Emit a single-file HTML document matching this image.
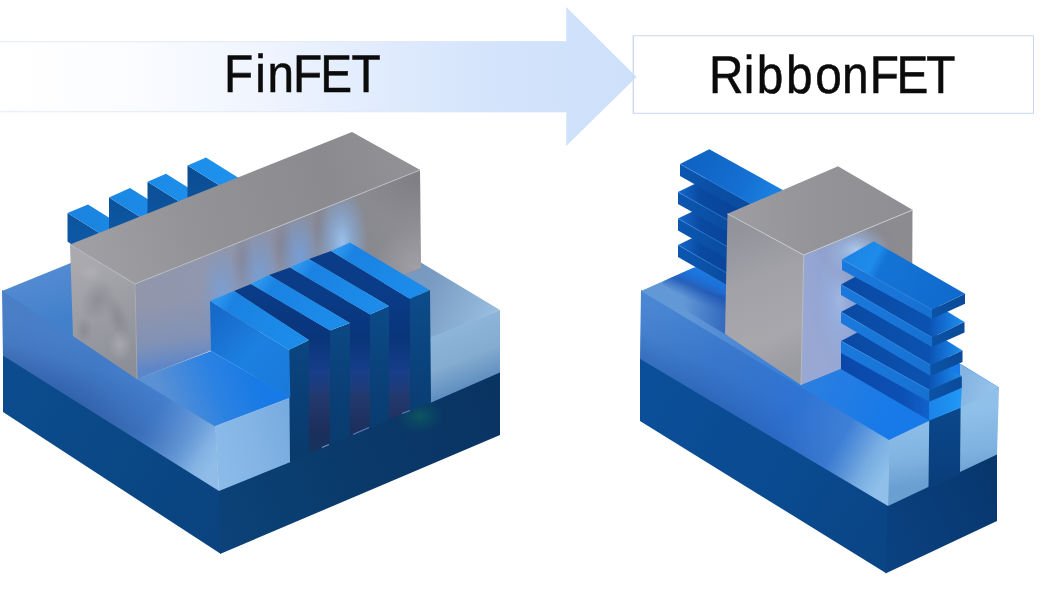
<!DOCTYPE html>
<html lang="en">
<head>
<meta charset="utf-8">
<title>FinFET to RibbonFET</title>
<style>
  html,body{margin:0;padding:0;background:#fff;}
  body{width:1057px;height:601px;overflow:hidden;position:relative;}
  svg{display:block;position:absolute;left:0;top:0;}
  text{font-family:"Liberation Sans",sans-serif;fill:#0b0b0b;stroke:#0b0b0b;stroke-width:0.55px;text-rendering:geometricPrecision;}
</style>
</head>
<body>
<svg width="1057" height="601" viewBox="0 0 1057 601">
<defs>
  <filter id="noop" x="-5%" y="-20%" width="110%" height="140%" color-interpolation-filters="sRGB"><feOffset dx="0" dy="0"/></filter>
  <linearGradient id="gArrow" gradientUnits="userSpaceOnUse" x1="0" y1="0" x2="640" y2="0">
    <stop offset="0" stop-color="#ffffff"/>
    <stop offset="0.2" stop-color="#fbfcff"/>
    <stop offset="0.42" stop-color="#eff4fe"/>
    <stop offset="0.6" stop-color="#e0ebfd"/>
    <stop offset="0.78" stop-color="#d3e3fb"/>
    <stop offset="1" stop-color="#cde0fa"/>
  </linearGradient>
  <linearGradient id="gArrowLine" gradientUnits="userSpaceOnUse" x1="0" y1="0" x2="566" y2="0">
    <stop offset="0" stop-color="#e6ecf4"/>
    <stop offset="0.6" stop-color="#e3eaf6"/>
    <stop offset="1" stop-color="#cfe0fa"/>
  </linearGradient>
  <!-- FinFET gradients -->
  <linearGradient id="fSubL" gradientUnits="userSpaceOnUse" x1="3" y1="380" x2="220" y2="520">
    <stop offset="0" stop-color="#0c4c8e"/><stop offset="0.6" stop-color="#0a4785"/><stop offset="1" stop-color="#0a4380"/>
  </linearGradient>
  <linearGradient id="fSubR" gradientUnits="userSpaceOnUse" x1="220" y1="520" x2="500" y2="400">
    <stop offset="0" stop-color="#0b4277"/><stop offset="0.5" stop-color="#0a396a"/><stop offset="1" stop-color="#093462"/>
  </linearGradient>
  <linearGradient id="fOxL" gradientUnits="userSpaceOnUse" x1="3" y1="320" x2="217" y2="458">
    <stop offset="0" stop-color="#4a7fc6"/><stop offset="0.4" stop-color="#447dca"/><stop offset="0.7" stop-color="#4682d2"/><stop offset="0.86" stop-color="#6a9edc"/><stop offset="0.96" stop-color="#88b6e4"/><stop offset="1" stop-color="#8fbde8"/>
  </linearGradient>
  <linearGradient id="fOxLv" gradientUnits="userSpaceOnUse" x1="112" y1="352" x2="92" y2="418">
    <stop offset="0" stop-color="#2a5598" stop-opacity="0"/><stop offset="0.3" stop-color="#2a5598" stop-opacity="0.12"/><stop offset="0.65" stop-color="#28529a" stop-opacity="0.55"/><stop offset="1" stop-color="#244c8a" stop-opacity="0.9"/>
  </linearGradient>
  <linearGradient id="fOxLmaskG" gradientUnits="userSpaceOnUse" x1="3" y1="340" x2="195" y2="461">
    <stop offset="0" stop-color="#fff"/><stop offset="0.35" stop-color="#ddd"/><stop offset="0.75" stop-color="#555"/><stop offset="1" stop-color="#000"/>
  </linearGradient>
  <mask id="fOxLmask" maskUnits="userSpaceOnUse" x="0" y="280" width="230" height="220">
    <rect x="0" y="280" width="230" height="220" fill="url(#fOxLmaskG)"/>
  </mask>
  <linearGradient id="fOxTopBack" gradientUnits="userSpaceOnUse" x1="30" y1="272" x2="45" y2="325">
    <stop offset="0" stop-color="#558cd2"/><stop offset="1" stop-color="#4280cc"/>
  </linearGradient>
  <linearGradient id="fOxTopFront" gradientUnits="userSpaceOnUse" x1="255" y1="372" x2="165" y2="404">
    <stop offset="0" stop-color="#177ae6"/><stop offset="0.45" stop-color="#2c82e2"/><stop offset="1" stop-color="#5a90d4"/>
  </linearGradient>
  <linearGradient id="fOxRL" gradientUnits="userSpaceOnUse" x1="215" y1="440" x2="290" y2="420">
    <stop offset="0" stop-color="#8abae8"/><stop offset="0.5" stop-color="#84b4e5"/><stop offset="1" stop-color="#78abe0"/>
  </linearGradient>
  <linearGradient id="fOxTopR" gradientUnits="userSpaceOnUse" x1="425" y1="285" x2="495" y2="318">
    <stop offset="0" stop-color="#7899c0"/><stop offset="1" stop-color="#98bee0"/>
  </linearGradient>
  <linearGradient id="fOxRR" gradientUnits="userSpaceOnUse" x1="455" y1="325" x2="478" y2="385">
    <stop offset="0" stop-color="#8db6da"/><stop offset="0.55" stop-color="#84abd0"/><stop offset="1" stop-color="#5d8dbe"/>
  </linearGradient>
  <linearGradient id="fFinFront" gradientUnits="userSpaceOnUse" x1="0" y1="295" x2="0" y2="460">
    <stop offset="0" stop-color="#0c4c8a"/><stop offset="0.5" stop-color="#0a4179"/><stop offset="1" stop-color="#093a6c"/>
  </linearGradient>
  <linearGradient id="fGap" gradientUnits="userSpaceOnUse" x1="0" y1="290" x2="0" y2="455">
    <stop offset="0" stop-color="#0a3c88"/><stop offset="0.3" stop-color="#09357a"/><stop offset="0.5" stop-color="#173f8a"/><stop offset="0.65" stop-color="#23396e"/><stop offset="0.85" stop-color="#1c2f5c"/><stop offset="1" stop-color="#16335e"/>
  </linearGradient>
  <linearGradient id="fFinTop" gradientUnits="userSpaceOnUse" x1="230" y1="280" x2="330" y2="340">
    <stop offset="0" stop-color="#2a96ee"/><stop offset="0.12" stop-color="#1a82e2"/><stop offset="0.6" stop-color="#1c8ae8"/><stop offset="1" stop-color="#1e8eea"/>
  </linearGradient>
  <linearGradient id="fFinTop1" gradientUnits="userSpaceOnUse" x1="271" y1="263" x2="371" y2="323">
    <stop offset="0" stop-color="#2a96ee"/><stop offset="0.12" stop-color="#1a82e2"/><stop offset="0.6" stop-color="#1c8ae8"/><stop offset="1" stop-color="#1e8eea"/>
  </linearGradient>
  <linearGradient id="fFinTop2" gradientUnits="userSpaceOnUse" x1="310" y1="246.5" x2="410" y2="306.5">
    <stop offset="0" stop-color="#2a96ee"/><stop offset="0.12" stop-color="#1a82e2"/><stop offset="0.6" stop-color="#1c8ae8"/><stop offset="1" stop-color="#1e8eea"/>
  </linearGradient>
  <linearGradient id="fFinTop3" gradientUnits="userSpaceOnUse" x1="351" y1="230" x2="451" y2="290">
    <stop offset="0" stop-color="#2a96ee"/><stop offset="0.12" stop-color="#1a82e2"/><stop offset="0.6" stop-color="#1c8ae8"/><stop offset="1" stop-color="#1e8eea"/>
  </linearGradient>
  <linearGradient id="fFinSide" gradientUnits="userSpaceOnUse" x1="215" y1="315" x2="290" y2="385">
    <stop offset="0" stop-color="#176aca"/><stop offset="0.5" stop-color="#1c80e0"/><stop offset="1" stop-color="#1a7adc"/>
  </linearGradient>
  <linearGradient id="fGateTop" gradientUnits="userSpaceOnUse" x1="80" y1="250" x2="410" y2="160">
    <stop offset="0" stop-color="#a09fa4"/><stop offset="0.35" stop-color="#939297"/><stop offset="0.75" stop-color="#8b8a8f"/><stop offset="1" stop-color="#929196"/>
  </linearGradient>
  <linearGradient id="fGateEnd" gradientUnits="userSpaceOnUse" x1="80" y1="260" x2="130" y2="365">
    <stop offset="0" stop-color="#a9a9ae"/><stop offset="0.5" stop-color="#9c9da3"/><stop offset="1" stop-color="#8d8f98"/>
  </linearGradient>
  <linearGradient id="fGateFront" gradientUnits="userSpaceOnUse" x1="140" y1="330" x2="420" y2="220">
    <stop offset="0" stop-color="#9196ab"/><stop offset="0.3" stop-color="#9097af"/><stop offset="0.6" stop-color="#8d90a0"/><stop offset="0.8" stop-color="#88888f"/><stop offset="1" stop-color="#8e8e93"/>
  </linearGradient>
  <linearGradient id="fGateBL" gradientUnits="userSpaceOnUse" x1="170" y1="300" x2="180" y2="365">
    <stop offset="0" stop-color="#5f88cc" stop-opacity="0"/><stop offset="0.6" stop-color="#5f88cc" stop-opacity="0.3"/><stop offset="1" stop-color="#4a80d4" stop-opacity="0.75"/>
  </linearGradient>
  <radialGradient id="fGlowA" cx="0.5" cy="0.5" r="0.5">
    <stop offset="0" stop-color="#6aa4ec" stop-opacity="0.95"/><stop offset="0.5" stop-color="#6aa0e8" stop-opacity="0.5"/><stop offset="1" stop-color="#6aa0e8" stop-opacity="0"/>
  </radialGradient>
  <radialGradient id="fGlowB" cx="0.5" cy="0.5" r="0.5">
    <stop offset="0" stop-color="#9cc6f6" stop-opacity="1"/><stop offset="0.5" stop-color="#86b4ee" stop-opacity="0.55"/><stop offset="1" stop-color="#86b4ee" stop-opacity="0"/>
  </radialGradient>
  <radialGradient id="fShade" cx="0.5" cy="0.5" r="0.5">
    <stop offset="0" stop-color="#6b6678" stop-opacity="0.55"/><stop offset="1" stop-color="#6b6678" stop-opacity="0"/>
  </radialGradient>
  <radialGradient id="fGreen" cx="0.5" cy="0.5" r="0.5">
    <stop offset="0" stop-color="#0f7a5a" stop-opacity="0.45"/><stop offset="1" stop-color="#0f6a5a" stop-opacity="0"/>
  </radialGradient>
  <linearGradient id="fBackTop" gradientUnits="userSpaceOnUse" x1="70" y1="210" x2="240" y2="175">
    <stop offset="0" stop-color="#1a84e0"/><stop offset="1" stop-color="#1e92ee"/>
  </linearGradient>
  <linearGradient id="fBackSide" gradientUnits="userSpaceOnUse" x1="0" y1="165" x2="0" y2="245">
    <stop offset="0" stop-color="#0b4c92"/><stop offset="1" stop-color="#0d59a6"/>
  </linearGradient>
  <clipPath id="fGateFrontClip"><polygon points="135,284 420,170 421,268 137,379"/></clipPath>
  <radialGradient id="fMarbD" cx="0.5" cy="0.5" r="0.5">
    <stop offset="0" stop-color="#7c7d86" stop-opacity="0.5"/><stop offset="1" stop-color="#7c7d86" stop-opacity="0"/>
  </radialGradient>
  <radialGradient id="fMarbL" cx="0.5" cy="0.5" r="0.5">
    <stop offset="0" stop-color="#b4b4b9" stop-opacity="0.6"/><stop offset="1" stop-color="#b4b4b9" stop-opacity="0"/>
  </radialGradient>
  <clipPath id="fGateEndClip"><polygon points="70,244.5 135.5,284 137.5,379.5 73,336"/></clipPath>
  <linearGradient id="fGateRv" gradientUnits="userSpaceOnUse" x1="395" y1="180" x2="400" y2="275">
    <stop offset="0" stop-color="#76767c" stop-opacity="0.55"/><stop offset="0.5" stop-color="#88888e" stop-opacity="0"/><stop offset="1" stop-color="#a4a4aa" stop-opacity="0.6"/>
  </linearGradient>
  <radialGradient id="fCornerD" cx="0.5" cy="0.5" r="0.5">
    <stop offset="0" stop-color="#74747a" stop-opacity="0.6"/><stop offset="1" stop-color="#74747a" stop-opacity="0"/>
  </radialGradient>
  <radialGradient id="fCornerL" cx="0.5" cy="0.5" r="0.5">
    <stop offset="0" stop-color="#a8a8ae" stop-opacity="0.7"/><stop offset="1" stop-color="#a8a8ae" stop-opacity="0"/>
  </radialGradient>
  <!-- RibbonFET gradients -->
  <linearGradient id="rSubL" gradientUnits="userSpaceOnUse" x1="640" y1="390" x2="887" y2="540">
    <stop offset="0" stop-color="#0b4f9a"/><stop offset="0.6" stop-color="#0a4a8f"/><stop offset="1" stop-color="#0a4585"/>
  </linearGradient>
  <linearGradient id="rSubR" gradientUnits="userSpaceOnUse" x1="887" y1="540" x2="997" y2="488">
    <stop offset="0" stop-color="#0a4180"/><stop offset="1" stop-color="#08376e"/>
  </linearGradient>
  <linearGradient id="rOxL" gradientUnits="userSpaceOnUse" x1="640" y1="325" x2="888" y2="473">
    <stop offset="0" stop-color="#4a86d2"/><stop offset="0.3" stop-color="#3a78cc"/><stop offset="0.6" stop-color="#2f74d4"/><stop offset="0.8" stop-color="#3f80d8"/><stop offset="0.92" stop-color="#78aee2"/><stop offset="1" stop-color="#90c0ea"/>
  </linearGradient>
  <linearGradient id="rOxLv" gradientUnits="userSpaceOnUse" x1="775" y1="372" x2="745" y2="432">
    <stop offset="0" stop-color="#2458a8" stop-opacity="0"/><stop offset="0.35" stop-color="#2458a8" stop-opacity="0.1"/><stop offset="0.7" stop-color="#2458a8" stop-opacity="0.45"/><stop offset="1" stop-color="#1f50a0" stop-opacity="0.8"/>
  </linearGradient>
  <linearGradient id="rOxLmaskG" gradientUnits="userSpaceOnUse" x1="640" y1="340" x2="870" y2="478">
    <stop offset="0" stop-color="#fff"/><stop offset="0.4" stop-color="#ccc"/><stop offset="0.8" stop-color="#444"/><stop offset="1" stop-color="#000"/>
  </linearGradient>
  <mask id="rOxLmask" maskUnits="userSpaceOnUse" x="630" y="280" width="270" height="240">
    <rect x="630" y="280" width="270" height="240" fill="url(#rOxLmaskG)"/>
  </mask>
  <linearGradient id="rOxR" gradientUnits="userSpaceOnUse" x1="940" y1="415" x2="950" y2="480">
    <stop offset="0" stop-color="#8fc0ea"/><stop offset="0.6" stop-color="#80b2e0"/><stop offset="1" stop-color="#6a9fd2"/>
  </linearGradient>
  <linearGradient id="rOxTop" gradientUnits="userSpaceOnUse" x1="890" y1="400" x2="690" y2="305">
    <stop offset="0" stop-color="#187ae8"/><stop offset="0.35" stop-color="#2a7ee0"/><stop offset="0.7" stop-color="#4a86d4"/><stop offset="1" stop-color="#6398d6"/>
  </linearGradient>
  <linearGradient id="rOxTopR" gradientUnits="userSpaceOnUse" x1="962" y1="380" x2="998" y2="390">
    <stop offset="0" stop-color="#86b4e2"/><stop offset="1" stop-color="#96c4ec"/>
  </linearGradient>
  <linearGradient id="rCol" gradientUnits="userSpaceOnUse" x1="0" y1="405" x2="0" y2="490">
    <stop offset="0" stop-color="#0b488c"/><stop offset="1" stop-color="#093d7a"/>
  </linearGradient>
  <linearGradient id="rTop" gradientUnits="userSpaceOnUse" x1="850" y1="250" x2="955" y2="305">
    <stop offset="0" stop-color="#1a84e4"/><stop offset="0.22" stop-color="#1e8cea"/><stop offset="0.3" stop-color="#1474d6"/><stop offset="1" stop-color="#0f6acc"/>
  </linearGradient>
  <linearGradient id="rTopSh" gradientUnits="userSpaceOnUse" x1="850" y1="0" x2="962" y2="0">
    <stop offset="0" stop-color="#0a4aa4"/><stop offset="0.7" stop-color="#0b52b0"/><stop offset="0.85" stop-color="#1470d4"/><stop offset="1" stop-color="#1e8eec"/>
  </linearGradient>
  <linearGradient id="rSide" gradientUnits="userSpaceOnUse" x1="842" y1="0" x2="932" y2="0">
    <stop offset="0" stop-color="#1a78dc"/><stop offset="0.5" stop-color="#1976d8"/><stop offset="1" stop-color="#1670d0"/>
  </linearGradient>
  <linearGradient id="rEnd" gradientUnits="userSpaceOnUse" x1="930" y1="0" x2="965" y2="0">
    <stop offset="0" stop-color="#0c53a6"/><stop offset="1" stop-color="#0a4a98"/>
  </linearGradient>
  <linearGradient id="rStubTop" gradientUnits="userSpaceOnUse" x1="850" y1="0" x2="960" y2="0">
    <stop offset="0" stop-color="#0c56b8"/><stop offset="0.7" stop-color="#1270d8"/><stop offset="0.9" stop-color="#1e90f0"/><stop offset="1" stop-color="#2298f4"/>
  </linearGradient>
  <linearGradient id="rGateTop" gradientUnits="userSpaceOnUse" x1="735" y1="215" x2="905" y2="212">
    <stop offset="0" stop-color="#9d9ca1"/><stop offset="0.5" stop-color="#949398"/><stop offset="1" stop-color="#8f8e93"/>
  </linearGradient>
  <linearGradient id="rGateL" gradientUnits="userSpaceOnUse" x1="735" y1="230" x2="790" y2="370">
    <stop offset="0" stop-color="#92939b"/><stop offset="0.35" stop-color="#a1a1a7"/><stop offset="0.75" stop-color="#a7a7ac"/><stop offset="1" stop-color="#9a9aa1"/>
  </linearGradient>
  <linearGradient id="rGateR" gradientUnits="userSpaceOnUse" x1="805" y1="320" x2="912" y2="275">
    <stop offset="0" stop-color="#98a8d2"/><stop offset="0.3" stop-color="#92a4d4"/><stop offset="0.62" stop-color="#8c92ae"/><stop offset="0.8" stop-color="#88888f"/><stop offset="1" stop-color="#8b8b90"/>
  </linearGradient>
  <radialGradient id="rGlow" cx="0.5" cy="0.5" r="0.5">
    <stop offset="0" stop-color="#b4d2f8" stop-opacity="0.95"/><stop offset="0.5" stop-color="#9cc0f2" stop-opacity="0.5"/><stop offset="1" stop-color="#9cc0f2" stop-opacity="0"/>
  </radialGradient>
  <linearGradient id="rBackTop" gradientUnits="userSpaceOnUse" x1="690" y1="155" x2="780" y2="200">
    <stop offset="0" stop-color="#0f62c2"/><stop offset="0.6" stop-color="#1470d2"/><stop offset="1" stop-color="#1c84e2"/>
  </linearGradient>
  <linearGradient id="rBackTopSh" gradientUnits="userSpaceOnUse" x1="680" y1="0" x2="730" y2="0">
    <stop offset="0" stop-color="#1466c8"/><stop offset="0.4" stop-color="#0a4aa2"/><stop offset="1" stop-color="#09449a"/>
  </linearGradient>
  <linearGradient id="rBackSide" gradientUnits="userSpaceOnUse" x1="680" y1="0" x2="730" y2="0">
    <stop offset="0" stop-color="#0c56b0"/><stop offset="1" stop-color="#0a4ca0"/>
  </linearGradient>
  <linearGradient id="rShadow" gradientUnits="userSpaceOnUse" x1="712" y1="276" x2="700" y2="304">
    <stop offset="0" stop-color="#1a7ae2" stop-opacity="1"/><stop offset="0.3" stop-color="#1a6cd4" stop-opacity="0.95"/><stop offset="0.55" stop-color="#1c56b4" stop-opacity="0.85"/><stop offset="1" stop-color="#2a62bc" stop-opacity="0"/>
  </linearGradient>
  <clipPath id="rGateRClip"><polygon points="803.75,255 912.5,210 912,340 801,385"/></clipPath>
  <clipPath id="rOxTopClip"><polygon points="641,291 693,268 760,250 964,366 999,387.5 889,440"/></clipPath>
  <linearGradient id="rStubSide" gradientUnits="userSpaceOnUse" x1="841" y1="0" x2="930" y2="0">
    <stop offset="0" stop-color="#0a48a8"/><stop offset="0.7" stop-color="#0c50b4"/><stop offset="1" stop-color="#1262cc"/>
  </linearGradient>
  <linearGradient id="rStubFront" gradientUnits="userSpaceOnUse" x1="930" y1="0" x2="961" y2="0">
    <stop offset="0" stop-color="#1a84ea"/><stop offset="1" stop-color="#2298f4"/>
  </linearGradient>
  <linearGradient id="rShadow2" gradientUnits="userSpaceOnUse" x1="682" y1="0" x2="728" y2="0">
    <stop offset="0" stop-color="#1f54b0" stop-opacity="0"/><stop offset="1" stop-color="#1f54b0" stop-opacity="0.65"/>
  </linearGradient>

</defs>
<rect width="1057" height="601" fill="#ffffff"/>

<!-- ===== header ===== -->
<g id="header" opacity="0.999">
  <rect x="633.25" y="35.75" width="400.25" height="77.5" fill="#ffffff" stroke="#c9d6ef" stroke-width="1"/>
  <polygon points="0,41.75 566.25,41.75 566.25,7 636.5,77 566.25,146 566.25,111.75 0,111.75" fill="url(#gArrow)"/>
  <rect x="0" y="41.2" width="566" height="1.1" fill="url(#gArrowLine)"/>
  <rect x="0" y="111.2" width="566" height="1.1" fill="url(#gArrowLine)"/>
  <line x1="633.25" y1="36" x2="633.25" y2="113" stroke="#c9d6ef" stroke-width="1" opacity="0.7"/>
  <text id="t1" filter="url(#noop)" transform="scale(0.9,1)" x="249.03 283.51 297.17 325.59 355.73 390.44" y="91.8" font-size="53">FinFET</text>
  <text id="t2" filter="url(#noop)" transform="scale(0.9,1)" x="787.81 826.29 840.78 873.22 905.98 935.67 966.37 996.07 1029.16" y="93.4" font-size="53">RibbonFET</text>
</g>

<!-- ===== FinFET ===== -->
<g id="finfet">
  <!-- substrate -->
  <polygon points="3,354 219.6,490 220.6,553.8 3,412" fill="url(#fSubL)"/>
  <polygon points="218.5,490 290,460 288.5,350 430,289 431,402 500,371.5 500,435 220,554" fill="url(#fSubR)"/>
  <ellipse cx="420" cy="416" rx="24" ry="18" fill="url(#fGreen)"/>
  <!-- oxide left face -->
  <polygon points="2,290 215.5,425 219,491 3,355.5" fill="url(#fOxL)"/>
  <polygon points="2,290 215.5,425 219,491 3,355.5" fill="url(#fOxLv)" mask="url(#fOxLmask)"/>
  <!-- oxide top (back-left bit) -->
  <polygon points="2,291 72,262.5 76,338" fill="url(#fOxTopBack)"/>
  <!-- oxide top right bit + right face right bit -->
  <polygon points="400,250 500,310 430,338.5 425,300 340,245" fill="url(#fOxTopR)"/>
  <polygon points="429,338 500,310 500,372.5 430,403" fill="url(#fOxRR)"/>
  <!-- back fins -->
  <g>
    <polygon points="67.5,213 147.5,263 147.5,300 71,262 71,244 67.5,241.5" fill="url(#fBackSide)"/>
    <polygon points="67.5,213 88,204.5 168,254.5 147.5,263" fill="url(#fBackTop)"/>
    <polygon points="109,197.5 189,247.5 189,285 109,246" fill="url(#fBackSide)"/>
    <polygon points="109,197.5 130,188 210,238 189,247.5" fill="url(#fBackTop)"/>
    <polygon points="147.5,181.75 227.5,231.75 227.5,270 147.5,230" fill="url(#fBackSide)"/>
    <polygon points="147.5,181.75 166,173.75 246,223.75 227.5,231.75" fill="url(#fBackTop)"/>
    <polygon points="187.5,165.5 267.5,215.5 267.5,255 187.5,214" fill="url(#fBackSide)"/>
    <polygon points="187.5,165.5 206,157.5 286,207.5 267.5,215.5" fill="url(#fBackTop)"/>
  </g>
  <!-- gate -->
  <polygon points="135,284 420,170 421,268.5 137,379.5" fill="url(#fGateFront)"/>
  <g clip-path="url(#fGateFrontClip)">
    <polygon points="135,284 260,234 262,332 137,379.5" fill="url(#fGateBL)"/>
    <ellipse cx="415" cy="180" rx="55" ry="45" fill="url(#fCornerD)"/>
    <ellipse cx="418" cy="268" rx="45" ry="42" fill="url(#fCornerL)"/>
    <ellipse cx="243" cy="262" rx="12" ry="34" fill="url(#fShade)" opacity="0.55"/>
    <ellipse cx="282" cy="246" rx="12" ry="34" fill="url(#fShade)" opacity="0.55"/>
    <ellipse cx="321" cy="230" rx="11" ry="30" fill="url(#fShade)" opacity="0.5"/>
    <ellipse cx="222" cy="292" rx="22" ry="44" fill="url(#fGlowA)" opacity="0.6"/>
    <ellipse cx="260" cy="276" rx="21" ry="46" fill="url(#fGlowA)" opacity="0.65"/>
    <ellipse cx="300" cy="259" rx="21" ry="48" fill="url(#fGlowA)" opacity="0.75"/>
    <ellipse cx="342" cy="242" rx="26" ry="56" fill="url(#fGlowB)" opacity="0.9"/>
  </g>
  <polygon points="70,244.5 135.5,284 137.5,379.5 73,336" fill="url(#fGateEnd)"/>
  <g clip-path="url(#fGateEndClip)">
    <ellipse cx="98" cy="300" rx="16" ry="22" fill="url(#fMarbD)" transform="rotate(28 98 300)"/>
    <ellipse cx="118" cy="318" rx="10" ry="26" fill="url(#fMarbD)" transform="rotate(-20 118 318)"/>
    <ellipse cx="90" cy="272" rx="14" ry="10" fill="url(#fMarbL)"/>
    <ellipse cx="120" cy="345" rx="12" ry="16" fill="url(#fMarbL)"/>
    <ellipse cx="84" cy="330" rx="9" ry="14" fill="url(#fMarbD)"/>
  </g>
  <polygon points="70,244.5 352,132 420.3,170 135,284.3" fill="url(#fGateTop)"/>
  <polyline points="70,244.5 135,284 420,170" fill="none" stroke="#c9c9ce" stroke-width="1" opacity="0.75"/>
  <line x1="135" y1="284" x2="137" y2="379" stroke="#b5b7c0" stroke-width="1" opacity="0.5"/>
  <!-- oxide top (front bit) + right face left bit -->
  <polygon points="137,379 211,351 291,397.5 215,426.5" fill="url(#fOxTopFront)"/>
  <polygon points="215,426 290.5,397.5 290.5,462 219,491" fill="url(#fOxRL)"/>
  <!-- gaps between fins -->
  <polygon points="234,291 251,284 330.5,330.5 330.5,445 308.5,453.5 308.5,340" fill="url(#fGap)"/>
  <polygon points="269,275 290,267.5 370.5,314.5 370.5,428 349.5,436.5 349.5,323" fill="url(#fGap)"/>
  <polygon points="309,259 331,251 410.5,299 410.5,411 388.5,420 388.5,306" fill="url(#fGap)"/>
  <line x1="322" y1="447.5" x2="329" y2="444.5" stroke="#7fb0e6" stroke-width="1.2" opacity="0.8"/>
  <line x1="353" y1="434.5" x2="369" y2="427.5" stroke="#6fa0e0" stroke-width="1.2" opacity="0.7"/>
  <line x1="402" y1="413.5" x2="410" y2="410.5" stroke="#6fa0e0" stroke-width="1.2" opacity="0.7"/>
  <!-- fin front faces -->
  <polygon points="289,350 309,340 309,453.5 290,462" fill="url(#fFinFront)"/>
  <polygon points="330,330.5 350,323 350,436.5 330,445" fill="url(#fFinFront)"/>
  <polygon points="370,314.5 389,306 389,420 370,428" fill="url(#fFinFront)"/>
  <polygon points="410,299 430,290 431,402.5 410,411" fill="url(#fFinFront)"/>
  <!-- fin 1 side face -->
  <polygon points="210,301 289.3,350 290.3,397.8 211,351" fill="url(#fFinSide)"/>
  <!-- fin tops -->
  <polygon points="210,301 234,291 309,340 289,350" fill="url(#fFinTop)"/>
  <polygon points="251,284 269,275 350,323 330,330.5" fill="url(#fFinTop1)"/>
  <polygon points="290,267.5 309,259 389,306 370,314.5" fill="url(#fFinTop2)"/>
  <polygon points="331,251 350,242.5 429.5,290 410,299" fill="url(#fFinTop3)"/>

</g>

<!-- ===== RibbonFET ===== -->
<g id="ribbonfet">
  <!-- substrate -->
  <polygon points="640,357.5 888.6,505 886.2,573.2 640,421" fill="url(#rSubL)"/>
  <polygon points="887.5,505 997,453.5 997,521 885.5,573.5" fill="url(#rSubR)"/>
  <!-- oxide faces -->
  <polygon points="641,290 889.5,439 888,506 640,358.75" fill="url(#rOxL)"/>
  <polygon points="641,290 889.5,439 888,506 640,358.75" fill="url(#rOxLv)" mask="url(#rOxLmask)"/>
  <polygon points="889,439.5 999,387 997,454.5 888,506" fill="url(#rOxR)"/>
  <!-- oxide top -->
  <polygon points="641,291 693,268 760,250 964,366 999,387.5 889,440" fill="url(#rOxTop)"/>
  <polygon points="682,285 728,296 728,336 682,308" fill="url(#rShadow2)" clip-path="url(#rOxTopClip)"/>
  <polygon points="678,257 730,287 730,322 662,284" fill="url(#rShadow)" clip-path="url(#rOxTopClip)"/>
  <polygon points="960,408 999,387.5 960,364" fill="url(#rOxTopR)"/>
  <!-- back ribbons (bottom to top) -->
  <g>
    <polygon points="678,245 709,230 790,276 758,292" fill="url(#rBackTopSh)"/>
    <polygon points="678,245 758,291 758,303 678,257" fill="url(#rBackSide)"/>
    <polygon points="678,218.6 709,203.6 790,250 758,265" fill="url(#rBackTopSh)"/>
    <polygon points="678,218.6 758,264 758,276 678,230.6" fill="url(#rBackSide)"/>
    <polygon points="678,192 709,177 790,223 758,238" fill="url(#rBackTopSh)"/>
    <polygon points="678,192 758,237 758,249 678,204" fill="url(#rBackSide)"/>
    <polygon points="680,164 760,209 760,221 680,176" fill="url(#rBackSide)"/>
    <polygon points="680,164 709.3,149.3 790,194 760,209" fill="url(#rBackTop)"/>
  </g>
  <g stroke="#4aa2f2" stroke-width="0.9" opacity="0.5" fill="none">
    <line x1="680" y1="164" x2="760" y2="209"/><line x1="678" y1="192" x2="758" y2="237"/>
    <line x1="678" y1="218.6" x2="758" y2="264"/><line x1="678" y1="245" x2="758" y2="291"/>
  </g>
  <!-- gate -->
  <polygon points="803.5,255 912.5,210 912,340 801,385" fill="url(#rGateR)"/>
  <g clip-path="url(#rGateRClip)">
    <ellipse cx="856" cy="250" rx="34" ry="26" fill="url(#rGlow)" opacity="0.9"/>
    <ellipse cx="840" cy="300" rx="22" ry="60" fill="url(#rGlow)" opacity="0.45"/>
  </g>
  <polygon points="727.5,213.75 804,255 801.3,385.3 725,334" fill="url(#rGateL)"/>
  <polygon points="727.5,213.75 838,166.25 912.8,210 803.75,255.3" fill="url(#rGateTop)"/>
  <polyline points="727.5,213.75 803.75,255 912.5,210" fill="none" stroke="#d2d2d7" stroke-width="1" opacity="0.85"/>
  <line x1="803.75" y1="255" x2="801" y2="385" stroke="#c3c6d2" stroke-width="1" opacity="0.7"/>
  <!-- fin column + stub top -->
  <polygon points="929.2,420.3 960.6,407.5 960,474 928.5,489" fill="url(#rCol)"/>
  <polygon points="841,352 929.2,401 929.4,420.6 841,369" fill="url(#rStubSide)"/>
  <polygon points="929.2,401.7 961.8,387.7 960.6,407.8 929.2,420.6" fill="url(#rStubFront)"/>
  <!-- front ribbons (bottom to top) -->
  <g>
    <polygon points="841,341 873.5,324 961.8,376 929.2,390" fill="url(#rTopSh)"/>
    <polygon points="841,341 929.2,390 929.2,401.7 841,353" fill="url(#rSide)"/>
    <polygon points="929.2,390 961.8,376 961.8,387.7 929.2,401.7" fill="url(#rEnd)"/>
    <polygon points="841,312 873.5,295 962.5,350.5 930.5,365" fill="url(#rTopSh)"/>
    <polygon points="841,312 930.5,365 930.5,376 841,323" fill="url(#rSide)"/>
    <polygon points="930.5,365 962.5,350.5 962.5,362 930.5,376" fill="url(#rEnd)"/>
    <polygon points="841,284.5 873.5,267 964.5,322 932,337.5" fill="url(#rTopSh)"/>
    <polygon points="841,284.5 932,337.5 932,347 841,295" fill="url(#rSide)"/>
    <polygon points="932,337.5 964.5,322 964.5,332.5 932,347" fill="url(#rEnd)"/>
    <polygon points="842,259.5 932,309.5 932,318.75 842,270" fill="url(#rSide)"/>
    <polygon points="932,309.5 965,293.75 965,303.75 932,318.75" fill="url(#rEnd)"/>
    <polygon points="842,259.5 873.75,241.25 965,293.75 932,309.5" fill="url(#rTop)"/>
  </g>
  <g stroke="#4aa2f2" stroke-width="0.9" opacity="0.55" fill="none">
    <line x1="842" y1="259.5" x2="932" y2="309.5"/><line x1="841" y1="284.5" x2="932" y2="337.5"/>
    <line x1="841" y1="312" x2="930.5" y2="365"/><line x1="841" y1="341" x2="929.2" y2="390"/>
  </g>

</g>
</svg>
</body>
</html>
